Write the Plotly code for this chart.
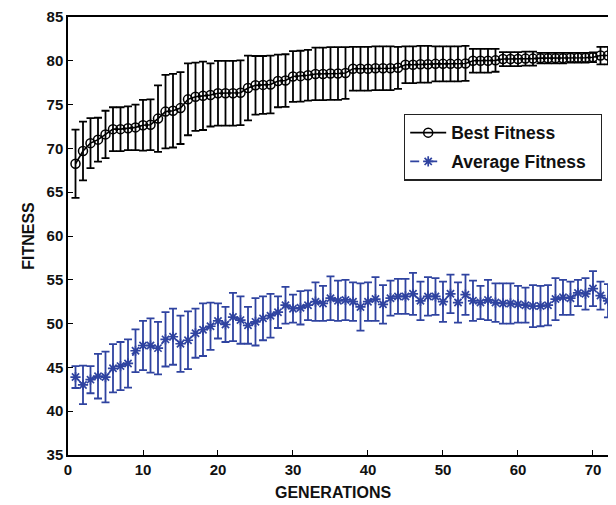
import plotly.graph_objects as go

generations = list(range(1, 75))

best_fitness = [68.25, 69.7, 70.6, 71.0, 71.6, 72.2, 72.2, 72.3, 72.4, 72.65,
                72.7, 73.4, 74.2, 74.3, 74.6, 75.6, 75.9, 76.0, 76.1, 76.3,
                76.3, 76.3, 76.35, 76.9, 77.2, 77.25, 77.3, 77.7, 77.75, 78.2,
                78.25, 78.35, 78.5, 78.5, 78.55, 78.55, 78.6, 79.1, 79.1, 79.1,
                79.15, 79.15, 79.15, 79.2, 79.55, 79.55, 79.6, 79.6, 79.65, 79.65,
                79.65, 79.65, 79.7, 80.0, 80.0, 80.0, 80.05, 80.2, 80.2, 80.2,
                80.25, 80.25, 80.3, 80.3, 80.3, 80.3, 80.35, 80.35, 80.35, 80.4,
                80.6, 80.6, 80.65, 80.65]
best_err = [3.9, 3.35, 2.85, 2.5, 2.7, 2.5, 2.5, 2.5, 2.6, 2.9,
            2.9, 3.8, 4.2, 4.2, 4.1, 4.1, 3.9, 3.9, 3.6, 3.7,
            3.7, 3.7, 3.7, 3.7, 3.35, 3.3, 3.3, 3.0, 3.0, 2.9,
            2.9, 2.9, 3.0, 3.0, 3.0, 3.0, 2.95, 2.5, 2.5, 2.5,
            2.5, 2.5, 2.5, 2.4, 2.1, 2.1, 2.1, 2.1, 2.0, 2.0,
            2.0, 2.0, 2.0, 1.35, 1.35, 1.35, 1.3, 0.8, 0.8, 0.8,
            0.8, 0.8, 0.6, 0.6, 0.6, 0.6, 0.55, 0.55, 0.55, 0.55,
            1.0, 1.0, 0.95, 0.95]

avg_fitness = [43.9, 43.0, 43.6, 44.0, 43.9, 44.9, 45.15, 45.45, 46.9, 47.5,
               47.5, 47.2, 48.2, 48.5, 47.7, 48.1, 48.9, 49.3, 49.7, 50.3,
               49.9, 50.75, 50.4, 49.8, 50.2, 50.6, 50.9, 51.3, 52.1, 51.7,
               51.8, 52.1, 52.5, 52.3, 52.9, 52.6, 52.7, 52.5, 51.9, 52.5,
               52.8, 52.2, 52.9, 53.1, 53.1, 53.4, 52.6, 53.1, 53.1, 52.5,
               53.4, 52.4, 53.3, 52.6, 52.4, 52.7, 52.4, 52.3, 52.3, 52.2,
               52.1, 52.0, 52.0, 52.1, 52.8, 53.0, 52.9, 53.5, 53.4, 54.0,
               53.2, 52.6, 52.3, 52.5]
avg_err = [1.25, 2.2, 1.55, 2.55, 2.9, 2.75, 2.75, 2.75, 2.45, 2.8,
           3.1, 3.0, 3.1, 3.2, 3.2, 3.3, 2.8, 3.0, 2.7, 2.0,
           2.0, 2.75, 2.7, 2.1, 2.7, 2.5, 2.5, 1.8, 2.1, 1.6,
           1.9, 1.7, 2.2, 2.0, 2.5, 2.3, 2.3, 2.2, 2.7, 2.2,
           2.5, 2.2, 2.0, 2.0, 2.0, 2.4, 2.2, 2.2, 2.1, 2.3,
           2.2, 2.3, 2.3, 2.3, 1.9, 2.3, 2.2, 2.3, 2.3, 2.1,
           2.0, 2.4, 2.3, 2.3, 2.4, 2.0, 1.9, 1.5, 1.8, 2.0,
           1.6, 1.9, 2.0, 2.0]

x_ticks = [0, 10, 20, 30, 40, 50, 60, 70]
y_ticks = [35, 40, 45, 50, 55, 60, 65, 70, 75, 80, 85]

BLUE = "#2f43a0"
FONT = "Liberation Sans"
TXT = "#111111"

# page has an 8px body margin: figure is offset by (8, 8)
OFF = 8
PL, PT, PB = 68 - OFF, 15 - OFF, 455 - OFF   # plot area edges in figure pixels
FW, FH = 616 - OFF, 505 - OFF
PW, PH = FW - PL, PB - PT

fig = go.Figure()
fig.add_trace(go.Scatter(
    x=generations, y=best_fitness, name="Best Fitness\u00a0\u00a0\u00a0",
    legendgroup="best",
    mode="lines+markers",
    line=dict(color="black", width=1.6),
    marker=dict(symbol="circle-open", size=9, color="black", line=dict(width=1.5, color="black")),
    error_y=dict(type="data", array=best_err, visible=True, color="black", thickness=1.8, width=4),
))
fig.add_trace(go.Scatter(
    x=generations, y=avg_fitness, name="Average Fitness\u00a0\u00a0",
    legendgroup="avg",
    mode="lines+markers",
    line=dict(color=BLUE, width=1.6, dash="dash"),
    marker=dict(symbol="asterisk-open", size=8.5, color=BLUE, line=dict(width=1.7, color=BLUE)),
    error_y=dict(type="data", array=avg_err, visible=True, color=BLUE, thickness=1.8, width=4),
))

fig.update_layout(
    width=FW, height=FH,
    margin=dict(l=PL, r=0, t=PT, b=FH - PB),
    plot_bgcolor="white", paper_bgcolor="white",
    font=dict(family=FONT, size=14, color=TXT, weight="bold"),
    showlegend=True,
    legend=dict(
        x=(404 - 68) / PW, y=(455 - 112) / PH, xanchor="left", yanchor="top",
        bgcolor="white", bordercolor="#222222", borderwidth=1.2,
        font=dict(family=FONT, size=17.5, color=TXT, weight="bold"),
        itemwidth=36, tracegroupgap=3,
    ),
    annotations=[dict(
        text="GENERATIONS", xref="paper", yref="paper",
        x=(333 - 68) / PW, y=-(493 - 455) / PH, xanchor="center", yanchor="middle",
        showarrow=False, font=dict(family=FONT, size=16, color=TXT, weight="bold"),
    )],
)
fig.update_xaxes(
    range=[0, 73.07], tickvals=x_ticks, ticks="inside", ticklen=5, tickcolor="black",
    showline=True, linecolor="black", linewidth=1.5, mirror=True,
    showgrid=False, zeroline=False, ticklabeloverflow="allow",
    tickfont=dict(family=FONT, size=15, color=TXT, weight="bold"),
)
fig.update_yaxes(
    range=[35, 85], tickvals=y_ticks, ticks="inside", ticklen=5, tickcolor="black",
    showline=True, linecolor="black", linewidth=1.5, mirror=False,
    showgrid=False, zeroline=False, ticklabeloverflow="allow",
    tickfont=dict(family=FONT, size=15, color=TXT, weight="bold"),
    title=dict(text="FITNESS", standoff=8,
               font=dict(family=FONT, size=16, color=TXT, weight="bold")),
)

fig.write_html("out.html")
